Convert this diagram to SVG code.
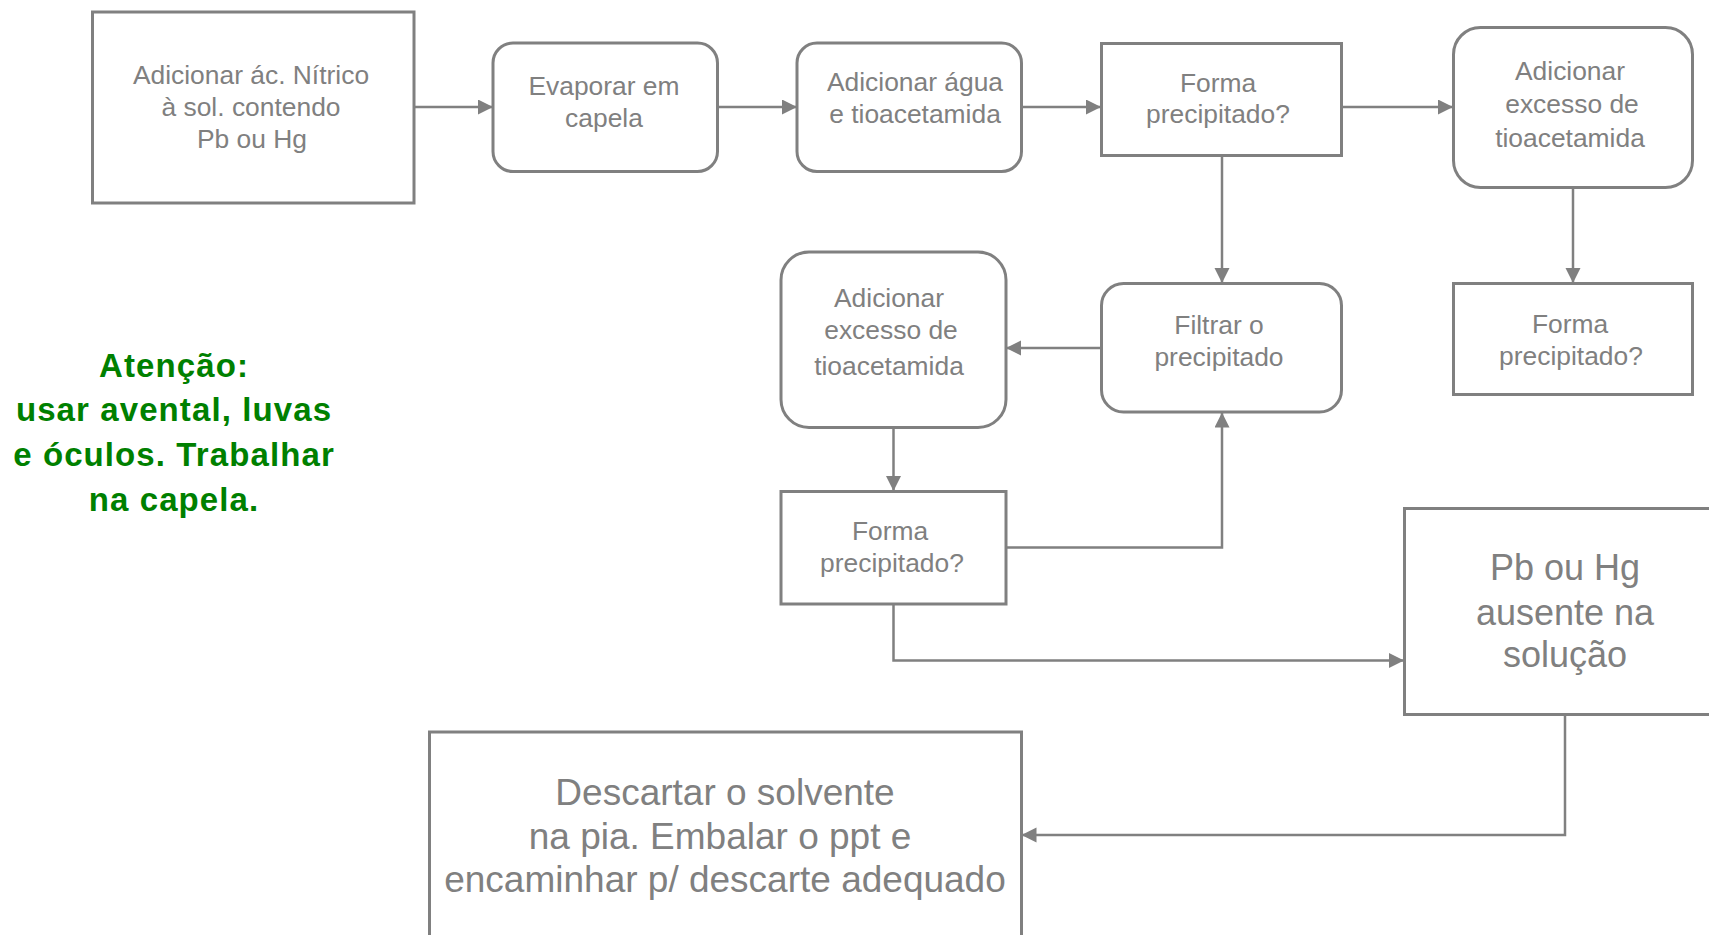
<svg xmlns="http://www.w3.org/2000/svg" width="1709" height="935" viewBox="0 0 1709 935">
<style>
.box{fill:#ffffff;stroke:#808080;stroke-width:3}
.t{font-family:"Liberation Sans",Arial,sans-serif;font-size:26.4px;fill:#808080;text-anchor:middle}
.tl{font-family:"Liberation Sans",Arial,sans-serif;font-size:36px;fill:#808080;text-anchor:middle}
.tx{font-family:"Liberation Sans",Arial,sans-serif;font-size:37px;fill:#808080;text-anchor:middle}
.g{font-family:"Liberation Sans",Arial,sans-serif;font-size:33px;font-weight:bold;fill:#008000;text-anchor:middle;letter-spacing:1.1px}
.c{fill:none;stroke:#808080;stroke-width:2.5}
</style>
<defs>
<marker id="ah" markerUnits="userSpaceOnUse" markerWidth="16" markerHeight="16" refX="15" refY="7.5" orient="auto">
<path d="M0,0 L15,7.5 L0,15 z" fill="#808080"/>
</marker>
</defs>
<rect width="1709" height="935" fill="#ffffff"/>
<g id="connectors">
<path class="c" d="M414 107 H493" marker-end="url(#ah)"/>
<path class="c" d="M717.5 107 H797" marker-end="url(#ah)"/>
<path class="c" d="M1021.5 107 H1101" marker-end="url(#ah)"/>
<path class="c" d="M1341.5 107 H1453" marker-end="url(#ah)"/>
<path class="c" d="M1222 156 V283" marker-end="url(#ah)"/>
<path class="c" d="M1573 188 V283" marker-end="url(#ah)"/>
<path class="c" d="M1101 348 H1006" marker-end="url(#ah)"/>
<path class="c" d="M893.5 427.5 V491" marker-end="url(#ah)"/>
<path class="c" d="M1006 547.5 H1222 V412.5" marker-end="url(#ah)"/>
<path class="c" d="M893.5 604 V660.5 H1404" marker-end="url(#ah)"/>
<path class="c" d="M1565 714.5 V835 H1021.5" marker-end="url(#ah)"/>
</g>
<g id="n1">
<rect class="box" x="92.5" y="12" width="321.5" height="191"/>
<text class="t" x="251" y="84">Adicionar ác. Nítrico</text>
<text class="t" x="251" y="116">à sol. contendo</text>
<text class="t" x="252" y="148">Pb ou Hg</text>
</g>
<g id="n2">
<rect class="box" x="493" y="43" width="224.5" height="128.5" rx="20"/>
<text class="t" x="604" y="95">Evaporar em</text>
<text class="t" x="604" y="127">capela</text>
</g>
<g id="n3">
<rect class="box" x="797" y="43" width="224.5" height="128.5" rx="20"/>
<text class="t" x="915" y="91">Adicionar água</text>
<text class="t" x="915" y="123">e tioacetamida</text>
</g>
<g id="n4">
<rect class="box" x="1101.5" y="43.5" width="240" height="112"/>
<text class="t" x="1218" y="92">Forma</text>
<text class="t" x="1218" y="123">precipitado?</text>
</g>
<g id="n5">
<rect class="box" x="1453.5" y="27.5" width="239" height="160" rx="27"/>
<text class="t" x="1570" y="80">Adicionar</text>
<text class="t" x="1572" y="113">excesso de</text>
<text class="t" x="1570" y="147">tioacetamida</text>
</g>
<g id="n6">
<rect class="box" x="1453.5" y="283.5" width="239" height="111"/>
<text class="t" x="1570" y="333">Forma</text>
<text class="t" x="1571" y="365">precipitado?</text>
</g>
<g id="n7">
<rect class="box" x="1101.5" y="283.5" width="240" height="128.5" rx="22"/>
<text class="t" x="1219" y="334">Filtrar o</text>
<text class="t" x="1219" y="366">precipitado</text>
</g>
<g id="n8">
<rect class="box" x="781" y="252" width="225" height="175.5" rx="28"/>
<text class="t" x="889" y="307">Adicionar</text>
<text class="t" x="891" y="339">excesso de</text>
<text class="t" x="889" y="375">tioacetamida</text>
</g>
<g id="n9">
<rect class="box" x="781" y="491.5" width="225" height="112.5"/>
<text class="t" x="890" y="540">Forma</text>
<text class="t" x="892" y="572">precipitado?</text>
</g>
<g id="n10">
<rect class="box" x="1404.5" y="508.5" width="322" height="206"/>
<text class="tl" x="1565" y="580">Pb ou Hg</text>
<text class="tl" x="1565" y="625">ausente na</text>
<text class="tl" x="1565" y="667">solução</text>
</g>
<g id="n11">
<rect class="box" x="429.5" y="732" width="592" height="220"/>
<text class="tx" x="725" y="805">Descartar o solvente</text>
<text class="tx" x="720" y="849">na pia. Embalar o ppt e</text>
<text class="tx" x="725" y="892">encaminhar p/ descarte adequado</text>
</g>
<g id="note">
<text class="g" x="174" y="377">Atenção:</text>
<text class="g" x="174" y="421">usar avental, luvas</text>
<text class="g" x="174" y="466">e óculos. Trabalhar</text>
<text class="g" x="174" y="511">na capela.</text>
</g>
</svg>
